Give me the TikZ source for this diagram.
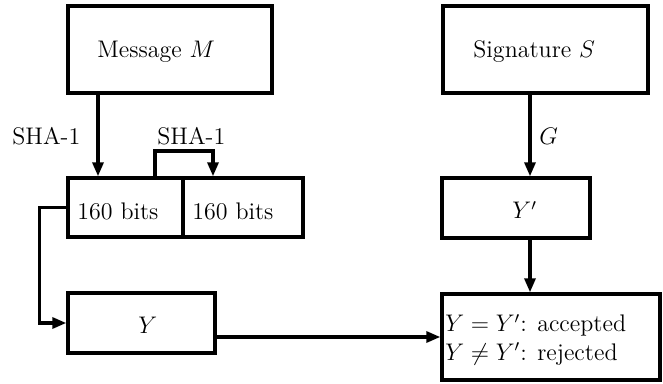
\documentclass[tikz,border=0pt]{standalone}
\usetikzlibrary{arrows.meta}
\begin{document}
\begin{tikzpicture}[x=0.5pt,y=-0.5pt,
  every node/.style={font=\fontsize{12}{14}\selectfont, inner sep=0pt},
  boxnode/.style={draw, line width=1.7pt, inner sep=0pt},
  txt/.style={anchor=base west},
  arr/.style={line width=1.6pt, -{Triangle[length=7pt,width=5.5pt]}},
  ln/.style={line width=1.6pt}]
\useasboundingbox (0,0) rectangle (663,384);
% boxes
\node[boxnode, minimum width=102pt, minimum height=43.5pt] (msg) at (170,49.5) {};
\node[boxnode, minimum width=102.5pt, minimum height=43.5pt] (sig) at (545.5,49.5) {};
\node[boxnode, minimum width=57.5pt, minimum height=29.5pt] (bitsa) at (125.5,207.5) {};
\node[boxnode, minimum width=60pt, minimum height=29.5pt] (bitsb) at (243,207.5) {};
\node[boxnode, minimum width=74pt, minimum height=30pt] (yp) at (516,208) {};
\node[boxnode, minimum width=73.5pt, minimum height=30pt] (y) at (141.5,323) {};
\node[boxnode, minimum width=109pt, minimum height=43pt] (res) at (551,337) {};
% texts
\node[txt] (tmsg) at (97,58) {Message $M$};
\node[txt] (tsig) at (473,58) {Signature $S$};
\node[txt] (tshaa) at (12,145) {SHA-1};
\node[txt] (tshab) at (157,145) {SHA-1};
\node[txt] (tg) at (539,145) {$G$};
\node[txt] (tbitsa) at (77,220) {160 bits};
\node[txt] (tbitsb) at (192,220) {160 bits};
\node[txt] (typ) at (512,219) {$Y'$};
\node[txt] (ty) at (138,334) {$Y$};
\node[txt] (tacc) at (445,332) {$Y = Y'$: accepted};
\node[txt] (trej) at (445,360) {$Y \neq Y'$: rejected};
% helper coordinates
\coordinate (cm) at (98,0);
\coordinate (cs) at (530,0);
\coordinate (la) at (155,0);
\coordinate (lb) at (213,151);
% connectors
\draw[arr] (msg.south -| cm) -- (bitsa.north -| cm);
\draw[arr] (bitsa.north -| la) |- (lb) -- (bitsb.north -| lb);
\draw[arr] (bitsa.west) -- ++(-27,0) |- (y.west);
\draw[arr] (sig.south -| cs) -- (yp.north -| cs);
\draw[arr] (yp.south -| cs) -- (res.north -| cs);
\draw[arr] (y.east |- res.west) -- (res.west);
\end{tikzpicture}
\end{document}
